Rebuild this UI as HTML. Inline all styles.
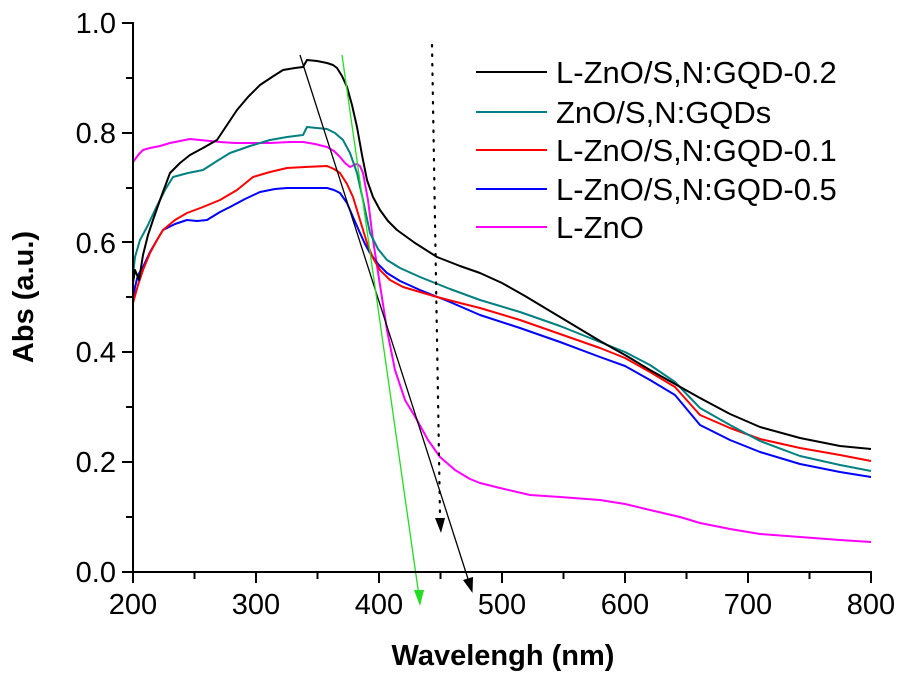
<!DOCTYPE html>
<html><head><meta charset="utf-8"><style>
html,body{margin:0;padding:0;background:#fff;}
svg{display:block;font-family:"Liberation Sans",Arial,sans-serif;}
</style></head><body>
<svg width="900" height="675" viewBox="0 0 900 675" xmlns="http://www.w3.org/2000/svg">
<g fill="none" stroke-width="2" stroke-linejoin="round">
<polyline stroke="#ff00ff" points="133,162 136,158 139,154 143,150 150,148 160,146 170,143 180,141 190,139 200,140 210,141 220,142 235,143 250,143 270,143 290,142 303,142 315,144 327,147 334,151 340,157 345,163 350,167 354,165 357,164 360,166 363,173 368,200 373,240 380,285 387,330 395,370 405,400 417,420 428,440 440,457 455,470 470,479 480,483 500,488 530,495 560,497 600,500 625,504 650,510 680,517 700,523 730,529 760,534 800,537 840,540 871,542"/>
<polyline stroke="#0000ff" points="133,300 135,287 138,275 143,267 150,252 157,240 163,230 175,224 187,220 197,221 207,220 220,212 230,207 245,199 260,192 275,189 287,188 305,188 318,188 327,188 334,190 340,193 347,203 353,217 360,233 365,244 370,253 378,264 387,273 400,281 420,290 450,302 480,315 520,328 560,342 600,357 625,366 650,380 675,395 700,425 730,440 760,452 800,464 840,472 871,477"/>
<polyline stroke="#ff0000" points="133,303 138,285 143,270 150,253 157,240 163,230 175,220 187,213 203,207 220,200 237,190 253,177 270,172 287,168 305,167 327,166 334,169 340,173 347,184 353,197 360,220 367,243 373,258 380,270 390,280 403,287 420,292 437,297 460,303 480,308 520,320 560,334 600,348 625,358 650,372 675,387 700,415 730,428 760,439 800,448 840,455 871,461"/>
<polyline stroke="#008080" points="133,275 135,257 140,240 147,227 155,210 165,190 173,177 188,173 203,170 217,161 230,153 250,146 270,140 287,137 303,135 307,127 317,128 327,129 335,133 343,140 350,153 357,173 363,200 370,233 378,249 387,260 400,268 420,277 450,289 480,300 520,312 560,326 600,342 625,352 650,365 675,382 700,408 730,425 760,441 800,456 840,465 871,471"/>
<polyline stroke="#000000" points="133,283 135,270 139,280 143,255 148,235 153,220 160,200 170,173 180,163 190,155 203,148 217,140 227,125 237,110 248,97 260,85 272,77 283,70 295,68 303,67 307,60 317,61 327,63 333,65 337,68 342,76 347,87 352,105 357,127 362,155 367,180 373,197 380,210 388,221 397,230 415,243 437,257 460,266 480,273 502,283 525,296 550,311 575,326 600,341 625,355 650,370 675,384 700,398 730,414 760,427 800,438 840,446 871,449"/>
</g>
<line x1="300" y1="55" x2="469" y2="582" stroke="#000" stroke-width="1.3"/>
<path d="M472.5,593 L473,577 L463,580 Z" fill="#000"/>
<line x1="342" y1="55" x2="420" y2="603" stroke="#22dd22" stroke-width="1.3"/>
<path d="M414,590 L424,590 L420,606 Z" fill="#22dd22"/>
<line x1="432" y1="45" x2="440" y2="515" stroke="#000" stroke-width="2.2" stroke-dasharray="1.5,8" stroke-linecap="round"/>
<path d="M435,518 L445,518 L441,533 Z" fill="#000"/>
<g stroke="#000" stroke-width="2" fill="none">
<line x1="133" y1="22" x2="133" y2="573"/>
<line x1="132" y1="572" x2="872" y2="572"/>
</g>
<g stroke="#000" stroke-width="2">
<line x1="133" y1="572" x2="133" y2="583"/><line x1="194.5" y1="572" x2="194.5" y2="579"/>
<line x1="256" y1="572" x2="256" y2="583"/><line x1="317.5" y1="572" x2="317.5" y2="579"/>
<line x1="379" y1="572" x2="379" y2="583"/><line x1="440.5" y1="572" x2="440.5" y2="579"/>
<line x1="502" y1="572" x2="502" y2="583"/><line x1="563.5" y1="572" x2="563.5" y2="579"/>
<line x1="625" y1="572" x2="625" y2="583"/><line x1="686.5" y1="572" x2="686.5" y2="579"/>
<line x1="748" y1="572" x2="748" y2="583"/><line x1="809.5" y1="572" x2="809.5" y2="579"/>
<line x1="871" y1="572" x2="871" y2="583"/>
<line x1="122" y1="572" x2="133" y2="572"/><line x1="126" y1="517" x2="133" y2="517"/>
<line x1="122" y1="462" x2="133" y2="462"/><line x1="126" y1="407" x2="133" y2="407"/>
<line x1="122" y1="352" x2="133" y2="352"/><line x1="126" y1="297" x2="133" y2="297"/>
<line x1="122" y1="242" x2="133" y2="242"/><line x1="126" y1="188" x2="133" y2="188"/>
<line x1="122" y1="133" x2="133" y2="133"/><line x1="126" y1="78" x2="133" y2="78"/>
<line x1="122" y1="23" x2="133" y2="23"/>
</g>
<g font-size="29" fill="#000" text-anchor="middle">
<text x="133" y="614">200</text><text x="256" y="614">300</text><text x="379" y="614">400</text>
<text x="502" y="614">500</text><text x="625" y="614">600</text><text x="748" y="614">700</text><text x="871" y="614">800</text>
</g>
<g font-size="29" fill="#000" text-anchor="end">
<text x="116" y="582">0.0</text><text x="116" y="472">0.2</text><text x="116" y="362">0.4</text>
<text x="116" y="253">0.6</text><text x="116" y="143">0.8</text><text x="116" y="33">1.0</text>
</g>
<text x="503" y="665" font-size="29" font-weight="bold" text-anchor="middle">Wavelengh (nm)</text>
<text transform="translate(33,297) rotate(-90)" font-size="29" font-weight="bold" text-anchor="middle">Abs (a.u.)</text>
<g stroke-width="2">
<line x1="476" y1="72" x2="547" y2="72" stroke="#000"/>
<line x1="476" y1="112" x2="547" y2="112" stroke="#008080"/>
<line x1="476" y1="150" x2="547" y2="150" stroke="#ff0000"/>
<line x1="476" y1="189" x2="547" y2="189" stroke="#0000ff"/>
<line x1="476" y1="227" x2="547" y2="227" stroke="#ff00ff"/>
</g>
<g font-size="31" fill="#000">
<text x="556" y="83">L-ZnO/S,N:GQD-0.2</text>
<text x="556" y="123">ZnO/S,N:GQDs</text>
<text x="556" y="161">L-ZnO/S,N:GQD-0.1</text>
<text x="556" y="200">L-ZnO/S,N:GQD-0.5</text>
<text x="556" y="238">L-ZnO</text>
</g>
</svg>
</body></html>
